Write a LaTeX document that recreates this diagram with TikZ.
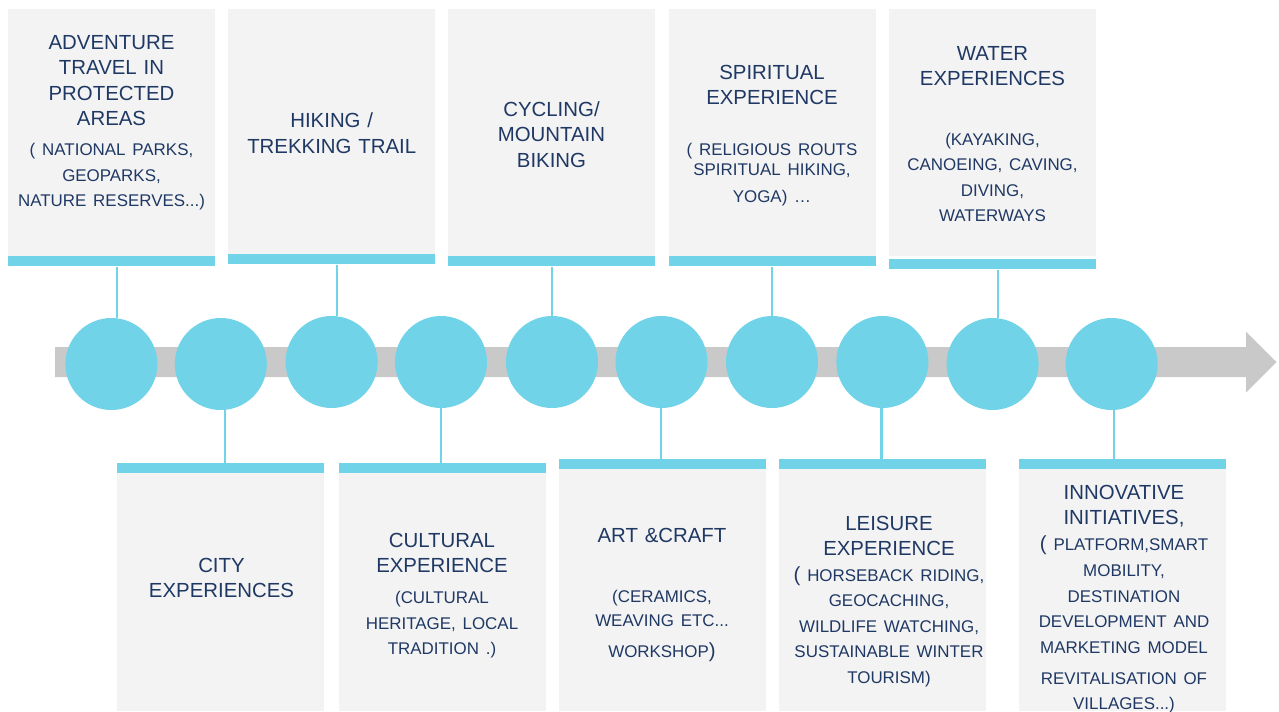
\documentclass[tikz,border=0pt]{standalone}
\usepackage{fontspec}
\setmainfont{Liberation Sans}
\usetikzlibrary{positioning}

\definecolor{navy}{HTML}{1F3864}
\definecolor{aqua}{HTML}{71D3E8}
\definecolor{panelgray}{HTML}{F3F3F3}
\definecolor{shaftgray}{HTML}{C9C9C9}

\newcommand\bigtxt{\fontsize{15.3pt}{19.125pt}\selectfont}
\newcommand\smalltxt{\fontsize{12.7pt}{19.125pt}\selectfont}

\tikzset{
panel/.style={fill=panelgray,inner sep=0pt,minimum width=155.25pt,anchor=north west},
strip/.style={fill=aqua,inner sep=0pt,minimum width=155.25pt,minimum height=7.5pt,anchor=north west},
dot/.style={circle,fill=aqua,minimum size=69pt,inner sep=0pt},
stem/.style={draw=aqua,line width=1.7pt},
blurb/.style={text=navy,text width=155pt,align=center,inner sep=0pt,anchor=base,font=\bigtxt}}

\begin{document}
\begin{tikzpicture}
  [x=0.75pt,y=-0.75pt]
  \useasboundingbox (0,0) rectangle (1279,711);
  % timeline arrow
  \fill[shaftgray] (55,347) -- (1246,347) -- (1246,331.7) -- (1276.5,362)
    -- (1246,392.7) -- (1246,377) -- (55,377) -- cycle;

  % upper panels
  \node[panel,minimum height=185.25pt] (p1) at (8,9) {};
  \node[strip] (k1) at (8,256) {};
  \node[panel,minimum height=183.75pt] (p3) at (228,9) {};
  \node[strip] (k3) at (228,254) {};
  \node[panel,minimum height=185.25pt] (p5) at (448,9) {};
  \node[strip] (k5) at (448,256) {};
  \node[panel,minimum height=185.25pt] (p7) at (669,9) {};
  \node[strip] (k7) at (669,256) {};
  \node[panel,minimum height=185.25pt] (p9) at (889,9) {};
  \node[strip] (k9) at (889,259) {};

  % lower panels
  \node[strip] (k2) at (117,463) {};
  \node[panel,minimum height=178.5pt] (p2) at (117,473) {};
  \node[strip] (k4) at (339,463) {};
  \node[panel,minimum height=178.5pt] (p4) at (339,473) {};
  \node[strip] (k6) at (559,459) {};
  \node[panel,minimum height=181.5pt] (p6) at (559,469) {};
  \node[strip] (k8) at (779,459) {};
  \node[panel,minimum height=181.5pt] (p8) at (779,469) {};
  \node[strip] (k10) at (1019,459) {};
  \node[panel,minimum height=181.5pt] (p10) at (1019,469) {};

  % milestones
  \foreach \x/\y [count=\i] in {111.4/364,220.8/364,331.6/362,441/362,552/362,
      661.5/362,772/362,882.4/362,992.6/364,1111.6/364}
    \node[dot] (c\i) at (\x,\y) {};
  \foreach \i/\d in {1/5.6,3/5.4,5/0,7/0,9/5.2}
    \draw[stem] ([xshift=0.75*\d pt]c\i.north) -- ([xshift=0.75*\d pt]c\i.north |- k\i.south);
  \foreach \i/\d in {2/4,4/0,6/-0.5,8/-0.8,10/2.7}
    \draw[stem] ([xshift=0.75*\d pt]c\i.south) -- ([xshift=0.75*\d pt]c\i.south |- k\i.north);

  % texts
  \node[blurb] (t1) at (111.5,49) {ADVENTURE\\ TRAVEL IN\\ PROTECTED\\ AREAS\\[3.6pt]
    \smalltxt ( NATIONAL PARKS,\\ GEOPARKS,\\ NATURE RESERVES...)};
  \node[blurb] (t3) at (331.7,127.7) {HIKING /\\ TREKKING TRAIL};
  \node[blurb] (t5) at (551.5,116) {CYCLING/\\ MOUNTAIN\\ BIKING};
  \node[blurb] (t7) at (772,79) {SPIRITUAL\\ EXPERIENCE\\[19.1pt]
    \smalltxt ( RELIGIOUS ROUTS\\[-4.35pt] SPIRITUAL HIKING,\\[1.65pt] YOGA) …};
  \node[blurb] (t9) at (992.5,60) {WATER\\ EXPERIENCES\\[25.6pt]
    \smalltxt (KAYAKING,\\ CANOEING, CAVING,\\ DIVING,\\ WATERWAYS};
  \node[blurb] (t2) at (221.5,572.3) {CITY\\ EXPERIENCES};
  \node[blurb] (t4) at (442,547.3) {CULTURAL\\ EXPERIENCE\\[4.1pt]
    \smalltxt (CULTURAL\\ HERITAGE, LOCAL\\ TRADITION .)};
  \node[blurb] (t6) at (662,542.3) {ART \&CRAFT\\[25.9pt]
    \smalltxt (CERAMICS,\\[-0.75pt] WEAVING ETC...\\[3.75pt] WORKSHOP{\bigtxt )}};
  \node[blurb] (t8) at (889,530) {LEISURE\\ EXPERIENCE\\ {\bigtxt (} \smalltxt HORSEBACK RIDING,\\
    GEOCACHING,\\ WILDLIFE WATCHING,\\ SUSTAINABLE WINTER\\ TOURISM)};
  \node[blurb] (t10) at (1124,499) {INNOVATIVE\\ INITIATIVES,\\ {\bigtxt (} \smalltxt PLATFORM,SMART\\[1.1pt]
    MOBILITY,\\ DESTINATION\\ DEVELOPMENT AND\\ MARKETING MODEL\\[3.9pt] REVITALISATION OF\\ VILLAGES...)};
\end{tikzpicture}
\end{document}
